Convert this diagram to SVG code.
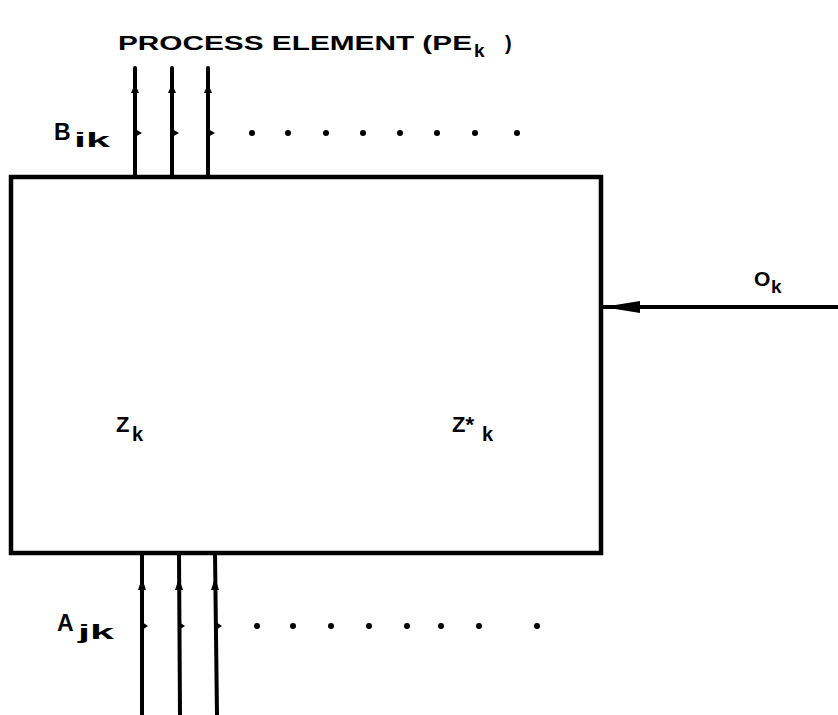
<svg xmlns="http://www.w3.org/2000/svg" width="838" height="715" viewBox="0 0 838 715">
<style>
.ln{stroke:#000;stroke-width:4;fill:none;stroke-linecap:round}
.bx{stroke:#000;stroke-width:4.5;fill:#fff}
.t{font-family:"Liberation Sans",Arial,sans-serif;font-weight:bold;fill:#000}
.dot{fill:#000}
.ah{fill:#000}
</style>
<text class="t" x="118" y="50" font-size="20" textLength="354" lengthAdjust="spacingAndGlyphs">PROCESS ELEMENT (PE</text>
<text class="t" x="474" y="57" font-size="19">k</text>
<text class="t" x="505" y="50" font-size="20">)</text>
<g id="pe">
<rect class="bx" x="11" y="177" width="590" height="376"/>
<text class="t" x="116" y="432" font-size="22">Z</text>
<text class="t" x="132" y="441" font-size="20">k</text>
<text class="t" x="452" y="432" font-size="22">Z*</text>
<text class="t" x="482" y="441" font-size="20">k</text>
</g>
<g id="connectors">
<line class="ln" x1="135" y1="68" x2="135" y2="177"/>
<line class="ln" x1="172" y1="68" x2="172" y2="177"/>
<line class="ln" x1="208" y1="68" x2="208" y2="177"/>
<path class="ah" d="M131,93 L135,84 L139,93 z"/>
<path class="ah" d="M168,93 L172,84 L176,93 z"/>
<path class="ah" d="M204,93 L208,84 L212,93 z"/>
<path class="ah" d="M135,129 L142,133 L135,137 z"/>
<path class="ah" d="M172,129 L179,133 L172,137 z"/>
<path class="ah" d="M208,129 L215,133 L208,137 z"/>
<line class="ln" x1="142" y1="553" x2="142" y2="715"/>
<line class="ln" x1="179" y1="553" x2="180" y2="715"/>
<line class="ln" x1="215" y1="553" x2="217" y2="715"/>
<path class="ah" d="M138,590 L142,578 L146,590 z"/>
<path class="ah" d="M175,590 L179,578 L183,590 z"/>
<path class="ah" d="M211,590 L215,578 L219,590 z"/>
<path class="ah" d="M142,622 L148,626 L142,630 z"/>
<path class="ah" d="M179,622 L185,626 L179,630 z"/>
<path class="ah" d="M216,622 L222,626 L216,630 z"/>
<line class="ln" x1="603" y1="307" x2="838" y2="307"/>
<path class="ah" d="M603,307 L640,301 L640,313 z"/>
</g>
<g id="dots">
<circle class="dot" cx="252" cy="133" r="3"/>
<circle class="dot" cx="288" cy="133" r="3"/>
<circle class="dot" cx="326" cy="133" r="3"/>
<circle class="dot" cx="363" cy="133" r="3"/>
<circle class="dot" cx="400" cy="133" r="3"/>
<circle class="dot" cx="437" cy="133" r="3"/>
<circle class="dot" cx="475" cy="133" r="3"/>
<circle class="dot" cx="517" cy="133" r="3"/>
<circle class="dot" cx="257" cy="626" r="3"/>
<circle class="dot" cx="293" cy="626" r="3"/>
<circle class="dot" cx="331" cy="626" r="3"/>
<circle class="dot" cx="369" cy="626" r="3"/>
<circle class="dot" cx="407" cy="626" r="3"/>
<circle class="dot" cx="441" cy="626" r="3"/>
<circle class="dot" cx="479" cy="626" r="3"/>
<circle class="dot" cx="537" cy="626" r="3"/>
</g>
<text class="t" x="54" y="140" font-size="23">B</text>
<text class="t" x="74" y="147" font-size="21" textLength="36" lengthAdjust="spacingAndGlyphs">ik</text>
<text class="t" x="57" y="631" font-size="23">A</text>
<text class="t" x="78" y="639" font-size="21" textLength="36" lengthAdjust="spacingAndGlyphs">jk</text>
<text class="t" x="754" y="286" font-size="21">O</text>
<text class="t" x="771" y="293" font-size="19">k</text>
</svg>
